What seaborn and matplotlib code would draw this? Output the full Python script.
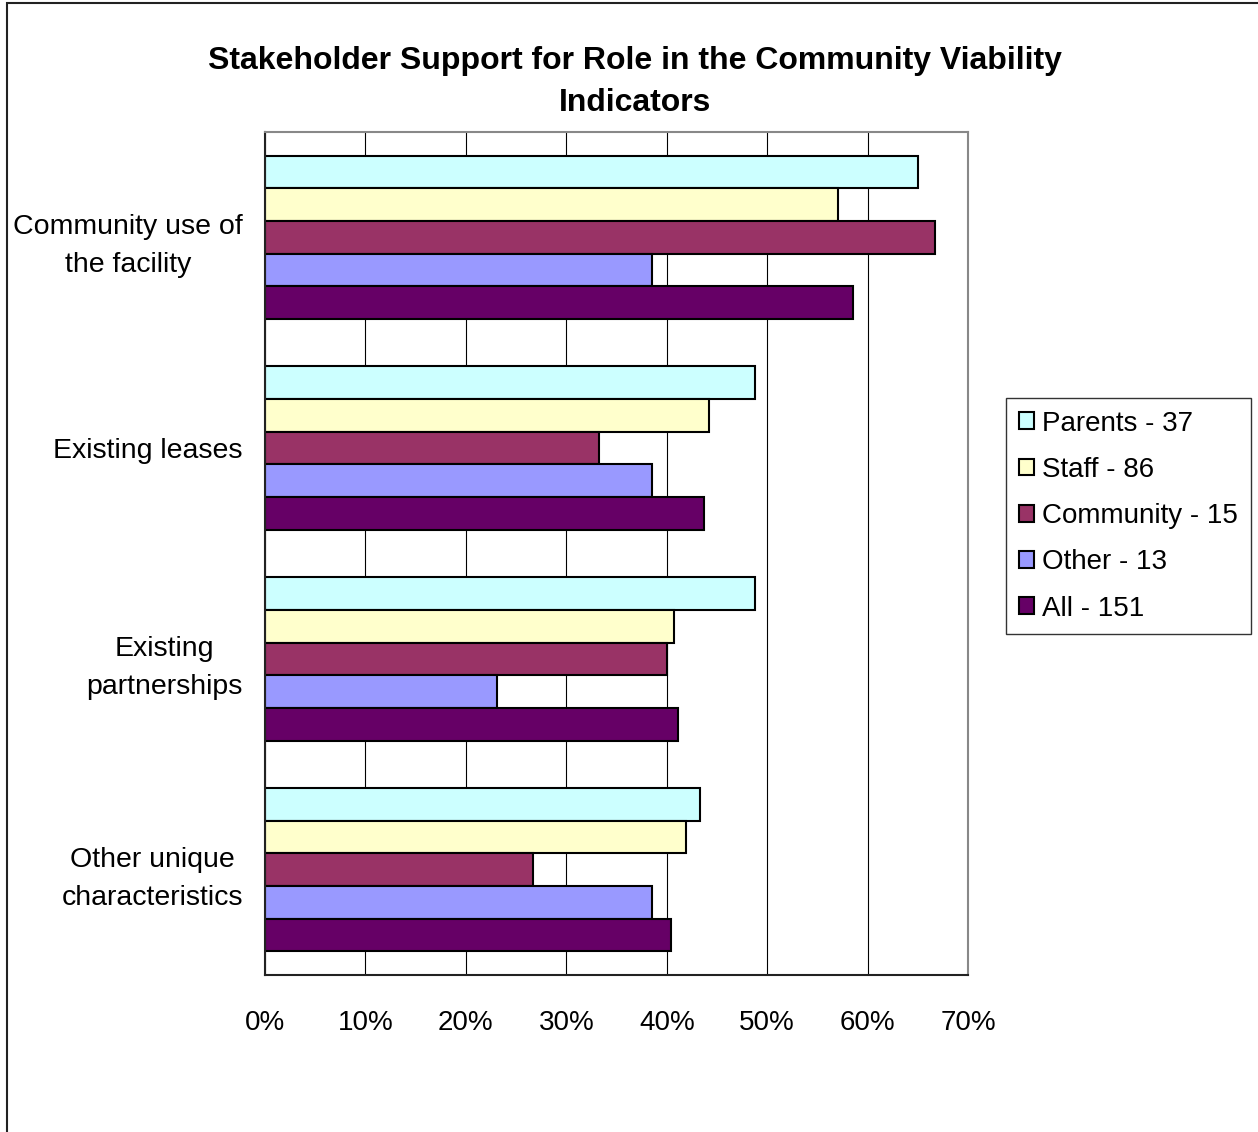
import matplotlib
matplotlib.use("Agg")
import matplotlib.pyplot as plt
import pandas as pd
import seaborn as sns
from matplotlib.patches import Rectangle

# Data (share of respondents supporting each indicator)
indicators = [
    "Community use of\nthe facility",
    "Existing leases",
    "Existing\npartnerships",
    "Other unique\ncharacteristics",
]
groups = ["Parents - 37", "Staff - 86", "Community - 15", "Other - 13", "All - 151"]
parents = [0.650, 0.488, 0.488, 0.433]
staff = [0.571, 0.442, 0.407, 0.419]
community = [0.667, 0.333, 0.400, 0.267]
other = [0.385, 0.385, 0.231, 0.385]
all_resp = [0.585, 0.437, 0.411, 0.404]
colors = ["#CCFFFF", "#FFFFCC", "#993366", "#9999FF", "#660066"]

rows = []
for grp, vals in zip(groups, [parents, staff, community, other, all_resp]):
    for ind, v in zip(indicators, vals):
        rows.append({"Indicator": ind, "Group": grp, "Share": v})
df = pd.DataFrame(rows)

sns.set_theme(style="white", rc={
    "text.color": "black",
    "axes.labelcolor": "black",
    "xtick.color": "black",
    "ytick.color": "black",
})
plt.rcParams["font.family"] = ["Liberation Sans", "DejaVu Sans"]

fig = plt.figure(figsize=(12.58, 11.32), dpi=100)
ax = fig.add_axes([0.2107, 0.1387, 0.5588, 0.7447])

sns.barplot(
    data=df,
    x="Share",
    y="Indicator",
    hue="Group",
    order=indicators,
    hue_order=groups,
    palette=colors,
    orient="h",
    width=0.775,
    edgecolor="black",
    linewidth=1.5,
    saturation=1,
    ax=ax,
)

ax.set_xlim(0, 0.7)
ax.set_xticks([i / 10 for i in range(8)])
ax.set_xticklabels([f"{i * 10}%" for i in range(8)], fontsize=20)
ax.tick_params(axis="x", direction="out", length=9, width=1, color="#333333", pad=16)
ax.tick_params(axis="y", length=0, pad=16, labelsize=20.5)
for lab in ax.get_yticklabels():
    lab.set_multialignment("center")
    lab.set_linespacing(1.6)
ax.xaxis.grid(True, color="black", linewidth=0.8)
ax.set_axisbelow(True)
ax.set_xlabel("")
ax.set_ylabel("")

for side in ["left", "bottom"]:
    ax.spines[side].set_color("#222222")
    ax.spines[side].set_linewidth(1.5)
for side in ["top", "right"]:
    ax.spines[side].set_color("#888888")
    ax.spines[side].set_linewidth(1.5)

ax.legend(
    loc="upper left",
    bbox_to_anchor=(0.7997, 0.6484),
    bbox_transform=fig.transFigure,
    fontsize=20,
    frameon=True,
    fancybox=False,
    edgecolor="black",
    handlelength=0.55,
    handleheight=0.55,
    handletextpad=0.3,
    labelspacing=0.73,
    borderpad=0.45,
    borderaxespad=0,
    title=None,
)

fig.text(
    0.505, 0.9275,
    "Stakeholder Support for Role in the Community Viability\nIndicators",
    ha="center", va="center", fontsize=23, fontweight="bold", linespacing=1.55,
)

# outer chart frame (only left and top edges visible in the reference)
fig.patches.append(
    Rectangle((7 / 1258, -0.1), 1.2, 1.1 - 3 / 1132, transform=fig.transFigure,
              fill=False, edgecolor="#222222", linewidth=1.5)
)

fig.savefig("out.png", dpi=100)
